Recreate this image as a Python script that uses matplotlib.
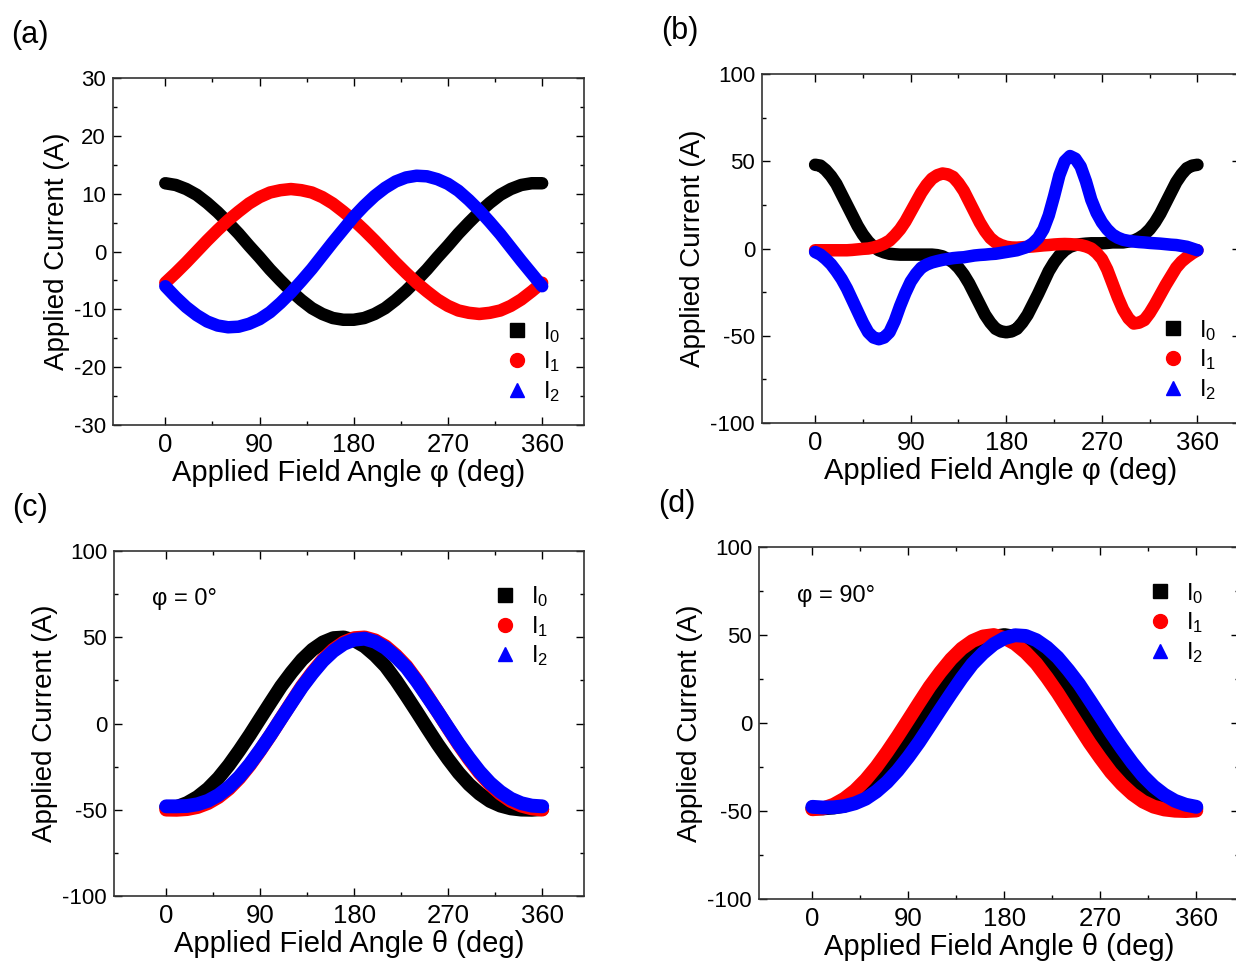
import matplotlib
matplotlib.use("Agg")
import matplotlib.pyplot as plt
from matplotlib.lines import Line2D

plt.rcParams['font.family'] = ['Liberation Sans', 'DejaVu Sans']
plt.rcParams['mathtext.fontset'] = 'custom'
plt.rcParams['mathtext.rm'] = 'Liberation Sans'
plt.rcParams['mathtext.it'] = 'Liberation Sans'
plt.rcParams['axes.unicode_minus'] = False

# angle grids (deg)
angle = list(range(0, 361, 10))
angle_b = list(range(0, 361, 5))   # panel (b) has sharp peaks, read finer

# (a) currents vs phi
a_i0 = [11.8, 11.5, 10.8, 9.8, 8.4, 6.8, 5.0, 3.1, 1.0, -1.0, -3.1, -5.0, -6.8, -8.4, -9.8, -10.8, -11.5, -11.8, -11.8,
        -11.5, -10.8, -9.8, -8.4, -6.8, -5.0, -3.1, -1.0, 1.0, 3.1, 5.0, 6.8, 8.4, 9.8, 10.8, 11.5, 11.8, 11.8]
a_i1 = [-5.4, -3.7, -1.9, 0.0, 1.9, 3.7, 5.4, 6.9, 8.3, 9.4, 10.2, 10.6, 10.8, 10.6, 10.2, 9.4, 8.3, 6.9, 5.4,
        3.7, 1.9, 0.0, -1.9, -3.7, -5.4, -6.9, -8.3, -9.4, -10.2, -10.6, -10.8, -10.6, -10.2, -9.4, -8.3, -6.9, -5.4]
a_i2 = [-6.0, -7.9, -9.6, -11.0, -12.1, -12.8, -13.1, -13.0, -12.5, -11.7, -10.5, -8.9, -7.1, -5.1, -3.0, -0.7, 1.6, 3.8, 6.0,
        7.9, 9.6, 11.0, 12.1, 12.8, 13.1, 13.0, 12.5, 11.7, 10.5, 8.9, 7.1, 5.1, 3.0, 0.7, -1.6, -3.8, -6.0]

# (b) currents vs phi
b_i0 = [48, 47.5, 45, 41.5, 37, 31, 25, 19, 13, 8, 4, 1, -1,
        -2.2, -3, -3.3, -3.5, -3.5, -3.5, -3.5, -3.5, -3.5, -3.5, -3.8, -4.5,
        -6, -8, -11, -15, -20, -26, -32, -38, -42.5, -46, -47.5, -48,
        -47.5, -46, -42.5, -38, -32, -26, -19.5, -13, -8, -4, -1, 1,
        2, 2.5, 2.8, 3, 3, 3, 3.2, 3.5, 3.5, 3.5, 4, 4.5,
        6, 8, 11, 15, 20, 26, 32, 38, 42.5, 46, 47.5, 48]
b_i1 = [-1, -1, -1, -1, -1, -1, -1, -0.8, -0.5, -0.2, 0, 0.6, 1.5,
        2.8, 4.5, 7.5, 11, 15.5, 21, 26.5, 32, 36.5, 40, 42, 43,
        42.5, 41, 37.5, 33, 27, 21, 15, 10, 6, 3.5, 2, 1,
        0.6, 0.5, 0.7, 1, 1.2, 1.5, 1.8, 2, 2.3, 2.5, 2.6, 2.5,
        2.3, 2, 1.2, 0, -2.5, -6, -12, -20, -28, -35, -40, -43,
        -42.5, -41, -37, -32, -26.5, -21, -16, -11, -7.5, -5, -2.8, -1]
b_i2 = [-2, -3.5, -6, -9, -13, -17.5, -23, -29.5, -36, -42.5, -48, -51, -52,
        -51, -48, -41.5, -33, -25.5, -19, -14.5, -11, -9.2, -8, -7.2, -6.5,
        -6, -5.5, -5.2, -5, -4.5, -4, -3.7, -3.5, -3.2, -3, -2.5, -2,
        -1.5, -1, 0, 1, 3, 6, 11, 19, 30, 42, 50, 53,
        51.5, 47, 38.5, 28, 20.5, 15, 11, 8, 6.2, 5, 4.4, 4,
        3.7, 3.5, 3.2, 3, 2.8, 2.5, 2.2, 2, 1.5, 1, 0, -1]

# (c) currents vs theta, phi = 0
c_i0 = [-48.5, -48.4, -46.1, -42.6, -37.8, -31.6, -24.1, -15.6, -6.6, 2.9, 12.3, 21.6, 29.7, 37.0, 42.8, 47.0, 49.5, 49.9, 48.2,
        44.7, 39.5, 33.2, 25.0, 16.0, 6.7, -2.8, -12.1, -20.7, -28.6, -35.3, -40.7, -44.9, -47.6, -49.2, -49.9, -50.0, -49.6]
c_i1 = [-49.9, -50.0, -49.6, -48.4, -46.1, -42.6, -37.8, -31.6, -24.1, -15.6, -6.6, 2.9, 12.3, 21.6, 29.7, 37.0, 42.8, 47.0, 49.5,
        49.9, 48.2, 44.7, 39.5, 33.2, 25.0, 16.0, 6.7, -2.8, -12.1, -20.7, -28.6, -35.3, -40.7, -44.9, -47.6, -49.2, -49.9]
c_i2 = [-48.0, -48.0, -47.8, -46.8, -44.8, -41.5, -36.9, -30.9, -23.6, -15.3, -6.5, 2.8, 12.0, 21.1, 29.1, 36.3, 42.0, 46.2, 48.6,
        49.2, 47.4, 43.8, 38.6, 32.4, 24.4, 15.6, 6.7, -2.5, -11.6, -20.0, -27.8, -34.4, -39.6, -43.6, -46.2, -47.6, -48.0]

# (d) currents vs theta, phi = 90
d_i0 = [-48.5, -48.5, -48.0, -47.0, -43.9, -39.3, -33.5, -26.4, -18.3, -9.4, 0.0, 9.5, 18.8, 27.4, 35.1, 41.4, 46.1, 49.0, 50.0,
        49.0, 46.1, 41.4, 35.1, 27.4, 18.8, 9.5, 0.0, -9.4, -18.3, -26.4, -33.5, -39.3, -43.9, -47.0, -48.9, -49.0, -48.5]
d_i1 = [-49.0, -48.5, -46.4, -43.0, -38.3, -32.2, -24.9, -16.5, -7.5, 1.9, 11.4, 20.7, 28.9, 36.3, 42.3, 46.6, 49.2, 50.0, 48.4,
        45.1, 40.1, 33.8, 25.8, 17.1, 7.6, -1.9, -11.3, -19.9, -28.0, -34.7, -40.3, -44.6, -47.5, -49.1, -49.8, -50.0, -49.7]
d_i2 = [-47.6, -48.0, -47.9, -47.2, -45.6, -43.0, -38.9, -33.6, -27.0, -19.3, -10.9, -1.7, 7.6, 16.7, 25.5, 33.5, 39.7, 44.8, 48.2,
        49.9, 49.5, 47.1, 42.9, 37.3, 30.1, 22.2, 13.1, 3.8, -5.5, -14.3, -22.6, -30.0, -36.0, -40.7, -44.2, -46.4, -47.6]

labels = ['I$_0$', 'I$_1$', 'I$_2$']
colors = ['black', 'red', 'blue']
markers = ['s', 'o', '^']

fig = plt.figure(figsize=(12.36, 9.64), dpi=100)

panels = [
    ([0.0914, 0.5591, 0.3811, 0.3600], angle, (a_i0, a_i1, a_i2), (-30, 30), 10, 5, 'φ', '(a)', None, 9),
    ([0.6165, 0.5612, 0.3867, 0.3620], angle_b, (b_i0, b_i1, b_i2), (-100, 100), 50, 25, 'φ', '(b)', None, 9),
    ([0.0922, 0.0705, 0.3803, 0.3579], angle, (c_i0, c_i1, c_i2), (-100, 100), 50, 25, 'θ', '(c)', 'φ = 0°', 10),
    ([0.6141, 0.0674, 0.3883, 0.3651], angle, (d_i0, d_i1, d_i2), (-100, 100), 50, 25, 'θ', '(d)', 'φ = 90°', 10),
]

for rect, xs, series, ylim, ymaj, ymin, sym, tag, note, lw in panels:
    ax = fig.add_axes(rect)
    for ys, c in zip(series, colors):
        ax.plot(xs, ys, color=c, lw=lw, solid_capstyle='round', solid_joinstyle='round')
    ax.set_xlim(-50, 400)
    ax.set_ylim(*ylim)
    ax.set_xticks([0, 90, 180, 270, 360])
    ax.set_xticks(range(45, 360, 90), minor=True)
    ax.set_yticks(range(ylim[0], ylim[1] + 1, ymaj))
    ax.set_yticks(range(ylim[0], ylim[1] + 1, ymin), minor=True)
    ax.tick_params(which='both', direction='in', top=True, right=True, width=1)
    ax.tick_params(which='major', length=6)
    ax.tick_params(which='minor', length=3)
    ax.tick_params(axis='x', labelsize=18.5, pad=6)
    ax.tick_params(axis='y', labelsize=16, pad=5)
    for sp in ax.spines.values():
        sp.set_linewidth(1.2)
        sp.set_color('#333333')
    ax.set_xlabel(f'Applied Field Angle {sym} (deg)', fontsize=21, labelpad=1)
    ax.set_ylabel('Applied Current (A)', fontsize=20, labelpad=3)

    handles = [Line2D([], [], ls='none', marker=m, color=c, ms=10) for m, c in zip(markers, colors)]
    if note is None:
        ax.legend(handles, labels, loc='lower right', bbox_to_anchor=(0.995, 0.0),
                  frameon=False, fontsize=17, handletextpad=0.1, labelspacing=0.2)
    else:
        ax.legend(handles, labels, loc='upper right', bbox_to_anchor=(0.97, 0.965),
                  frameon=False, fontsize=17, handletextpad=0.1, labelspacing=0.2)
        ax.text(0.08, 0.86, note, transform=ax.transAxes, fontsize=17, va='center')

    bb = ax.get_position()
    fig.text(bb.x0 - 0.082, bb.y1 + 0.045, tag, fontsize=22, va='center')

fig.savefig('out.png', dpi=100)
